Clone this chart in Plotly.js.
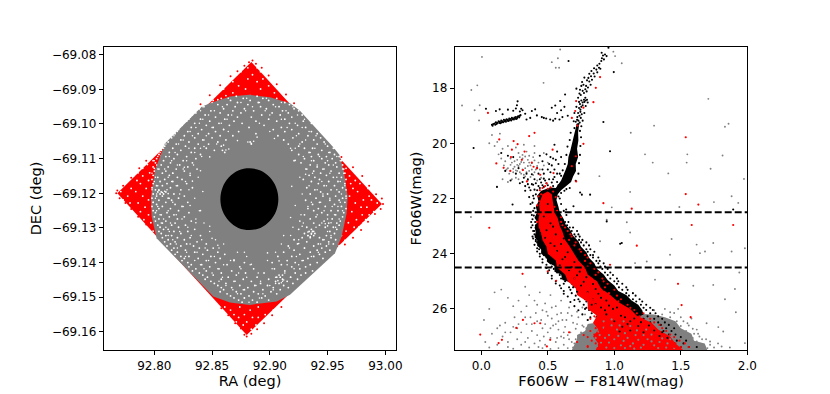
<!DOCTYPE html>
<html>
<head>
<meta charset="utf-8">
<script src="https://cdn.plot.ly/plotly-3.0.1.min.js"></script>
<style>
  html, body { margin: 0; padding: 0; background: #fff; }
  #chart { width: 830px; height: 394px; }
</style>
</head>
<body>
<div id="chart"></div>
<script>
// ── Sky map, outlines (RA, DEC) ──

const fieldOutline = [[92.884,-69.0821],[92.997,-69.1231],[92.880,-69.1609],[92.768,-69.1200]];

const greyOutline = [[92.8823,-69.0916],[92.9001,-69.0923],[92.9175,-69.0940],[92.9261,-69.0962],[92.9550,-69.1067],
  [92.9602,-69.1089],[92.9642,-69.1137],[92.9674,-69.1210],[92.9665,-69.1258],[92.9622,-69.1325],[92.9564,-69.1373],
  [92.9175,-69.1493],[92.9059,-69.1512],[92.8828,-69.1522],[92.8655,-69.1515],[92.8511,-69.1498],[92.8020,-69.1330],
  [92.7977,-69.1267],[92.7971,-69.1210],[92.8006,-69.1133],[92.8092,-69.1056],[92.8410,-69.0950],[92.8482,-69.0940],[92.8655,-69.0921]];

const coreOutline = [[92.8823,-69.1128],[92.8919,-69.1134],[92.9000,-69.1154],[92.9055,-69.1183],[92.9074,-69.1217],
  [92.9055,-69.1251],[92.9000,-69.1280],[92.8919,-69.1300],[92.8823,-69.1306],[92.8727,-69.1300],[92.8646,-69.1280],
  [92.8591,-69.1251],[92.8572,-69.1217],[92.8591,-69.1183],[92.8646,-69.1154],[92.8727,-69.1134]];

// gaps between stars in the grey area, one RA list per DEC row
const gapDec = [-69.092,-69.0926,-69.0932,-69.0938,-69.0944,-69.095,-69.0956,-69.0962,-69.0968,-69.0974,-69.098,-69.0986,-69.0992,-69.0998,-69.1004,-69.101,-69.1016,-69.1022,-69.1028,-69.1034,-69.104,-69.1046,-69.1052,-69.1058,-69.1064,-69.107,-69.1076,-69.1082,-69.1088,-69.1094,-69.11,-69.1106,-69.1112,-69.1118,-69.1124,-69.113,-69.1136,-69.1142,-69.1148,-69.1154,-69.116,-69.1166,-69.1172,-69.1178,-69.1184,-69.119,-69.1196,-69.1202,-69.1208,-69.1214,-69.122,-69.1226,-69.1232,-69.1238,-69.1244,-69.125,-69.1256,-69.1262,-69.1268,-69.1274,-69.128,-69.1286,-69.1292,-69.1298,-69.1304,-69.131,-69.1316,-69.1322,-69.1328,-69.1334,-69.134,-69.1346,-69.1352,-69.1358,-69.1364,-69.137,-69.1376,-69.1382,-69.1388,-69.1394,-69.14,-69.1406,-69.1412,-69.1418,-69.1424,-69.143,-69.1436,-69.1442,-69.1448,-69.1454,-69.146,-69.1466,-69.1472,-69.1478,-69.1484,-69.149,-69.1496,-69.1502,-69.1508,-69.1514];
const gapRa = [
[92.871,92.889],[92.858,92.877,92.894,92.906],[92.851,92.866,92.883,92.899],[92.846,92.872,92.89,92.913],[92.855,92.863,92.881,92.903,92.917],
[92.843,92.87,92.892,92.908],[92.839,92.86,92.878,92.897,92.921],[92.849,92.868,92.886,92.911,92.925],[92.836,92.857,92.875,92.902,92.916],[92.844,92.864,92.893,92.909,92.928],
[92.831,92.853,92.872,92.884,92.919,92.933],[92.84,92.861,92.899,92.913],[92.828,92.848,92.869,92.888,92.906,92.929],[92.835,92.856,92.876,92.917,92.936],[92.824,92.845,92.865,92.895,92.924,92.94],
[92.832,92.851,92.882,92.91,92.931],[92.821,92.841,92.86,92.903,92.919,92.943],[92.829,92.853,92.873,92.913,92.936,92.948],[92.818,92.838,92.847,92.888,92.925,92.941],[92.826,92.857,92.868,92.907,92.933,92.951],
[92.815,92.835,92.85,92.92,92.944],[92.823,92.842,92.862,92.912,92.938,92.954],[92.812,92.83,92.855,92.883,92.928,92.947],[92.819,92.838,92.847,92.884,92.916,92.941,92.957],[92.809,92.827,92.858,92.925,92.95],
[92.816,92.835,92.845,92.93,92.937,92.955],[92.806,92.823,92.852,92.859,92.919,92.945,92.959],[92.813,92.832,92.861,92.934,92.952],[92.804,92.82,92.84,92.925,92.942,92.956],[92.81,92.828,92.936,92.949,92.96],
[92.802,92.817,92.836,92.93,92.945,92.954],[92.808,92.825,92.921,92.938,92.962],[92.801,92.814,92.833,92.927,92.948,92.957],[92.806,92.822,92.935,92.951,92.963],[92.799,92.812,92.829,92.941,92.958],
[92.804,92.819,92.837,92.932,92.946,92.964],[92.8,92.81,92.826,92.938,92.953],[92.807,92.816,92.944,92.96,92.965],[92.799,92.813,92.831,92.934,92.949],[92.803,92.82,92.939,92.955,92.962],
[92.798,92.809,92.824,92.929,92.943,92.966],[92.805,92.816,92.936,92.951,92.959],[92.799,92.811,92.828,92.942,92.965],[92.802,92.807,92.82,92.947,92.956],[92.798,92.814,92.833,92.932,92.963],
[92.801,92.804,92.823,92.939,92.953,92.966],[92.803,92.806,92.81,92.944,92.96],[92.799,92.805,92.808,92.817,92.935,92.95],[92.802,92.807,92.826,92.946,92.957,92.966],[92.798,92.812,92.821,92.94,92.963],
[92.804,92.815,92.931,92.952,92.96],[92.799,92.81,92.829,92.943,92.965],[92.802,92.818,92.937,92.956],[92.798,92.807,92.824,92.948,92.962],[92.804,92.814,92.933,92.942,92.966],
[92.799,92.821,92.938,92.953,92.959],[92.801,92.811,92.83,92.945,92.964],[92.806,92.817,92.93,92.95,92.957],[92.8,92.813,92.826,92.94,92.963],[92.804,92.82,92.935,92.954],
[92.801,92.81,92.832,92.926,92.947,92.961],[92.807,92.818,92.938,92.951,92.958],[92.803,92.815,92.827,92.943,92.96],[92.805,92.821,92.932,92.948,92.955],[92.808,92.812,92.835,92.925,92.936,92.958],
[92.804,92.817,92.829,92.934,92.937,92.952],[92.806,92.823,92.93,92.936,92.939,92.956],[92.81,92.815,92.84,92.933,92.938,92.949],[92.807,92.82,92.831,92.928,92.935,92.943,92.953],[92.812,92.826,92.921,92.946,92.957],
[92.809,92.818,92.837,92.932,92.951],[92.814,92.828,92.845,92.924,92.942,92.955],[92.811,92.823,92.834,92.916,92.938,92.949],[92.817,92.839,92.851,92.93,92.945],[92.815,92.827,92.846,92.921,92.941,92.952],
[92.82,92.835,92.855,92.912,92.935,92.948],[92.818,92.842,92.861,92.926,92.943],[92.823,92.83,92.849,92.907,92.919,92.938],[92.826,92.838,92.857,92.933,92.946],[92.824,92.845,92.869,92.915,92.928],
[92.829,92.853,92.878,92.902,92.922,92.941],[92.832,92.841,92.863,92.91,92.935],[92.83,92.848,92.874,92.919,92.931],[92.836,92.856,92.886,92.904,92.926],[92.833,92.845,92.867,92.913,92.937],
[92.839,92.858,92.879,92.895,92.922,92.931],[92.842,92.851,92.871,92.908,92.911,92.927],[92.846,92.864,92.889,92.906,92.909,92.918],[92.844,92.858,92.877,92.899,92.911,92.924],[92.849,92.869,92.884,92.905,92.915],
[92.852,92.862,92.892,92.908,92.92],[92.855,92.874,92.887,92.898,92.912],[92.858,92.867,92.881,92.903,92.916],[92.86,92.878,92.894,92.909],[92.857,92.871,92.886,92.901],
[92.863,92.875,92.89,92.906],[92.866,92.882,92.896],[92.869,92.878,92.893],[92.873,92.885,92.899],[92.876,92.889]
];

// second pass of smaller gaps, same DEC rows every other step
const gapDecFine = gapDec.filter((d, i) => i % 2 === 1);
const gapRaFine = [
[92.864,92.88,92.897],[92.85,92.875,92.891,92.91],[92.842,92.859,92.885,92.905,92.92],[92.84,92.852,92.879,92.896,92.914],[92.833,92.847,92.867,92.9,92.924],
[92.83,92.842,92.863,92.91,92.93],[92.825,92.839,92.858,92.891,92.922,92.937],[92.822,92.836,92.85,92.915,92.928,92.942],[92.82,92.831,92.864,92.9,92.934,92.946],[92.817,92.833,92.845,92.923,92.94,92.95],
[92.811,92.825,92.843,92.912,92.931,92.953],[92.81,92.821,92.854,92.926,92.948],[92.808,92.83,92.84,92.922,92.939,92.956],[92.805,92.818,92.835,92.935,92.951],[92.803,92.813,92.841,92.929,92.943,92.958],
[92.8,92.815,92.828,92.936,92.95,92.961],[92.802,92.82,92.834,92.941,92.955],[92.803,92.809,92.825,92.931,92.947,92.963],[92.798,92.816,92.831,92.937,92.952,92.964],[92.801,92.812,92.838,92.926,92.958],
[92.8,92.815,92.827,92.945,92.961],[92.803,92.819,92.934,92.949,92.965],[92.798,92.811,92.83,92.941,92.958],[92.802,92.822,92.928,92.946,92.962],[92.801,92.813,92.835,92.952,92.966],
[92.799,92.816,92.936,92.944,92.961],[92.803,92.825,92.933,92.954,92.959],[92.802,92.812,92.839,92.947,92.963],[92.805,92.819,92.927,92.941,92.956],[92.808,92.824,92.836,92.95,92.96],
[92.806,92.814,92.843,92.929,92.945],[92.81,92.829,92.92,92.94,92.957],[92.813,92.822,92.848,92.937,92.95],[92.812,92.832,92.918,92.933,92.953],[92.816,92.841,92.853,92.925,92.947],
[92.819,92.831,92.86,92.91,92.944,92.951],[92.82,92.844,92.856,92.917,92.93],[92.828,92.837,92.872,92.905,92.942],[92.827,92.852,92.88,92.923,92.936],[92.835,92.847,92.866,92.898,92.929],
[92.84,92.86,92.883,92.915,92.925],[92.843,92.855,92.875,92.902,92.921],[92.85,92.873,92.89,92.913],[92.859,92.88,92.905,92.918],[92.856,92.87,92.892,92.911],
[92.862,92.888,92.9],[92.868,92.877,92.903],[92.872,92.894],[92.878,92.891],[92.882]
];

// the odd gap well inside the ring, and the clear patches
const gapInner = [[92.843,-69.1065],[92.86,-69.1015],[92.872,-69.1048],[92.889,-69.1038],[92.904,-69.1042],[92.918,-69.107],[92.826,-69.1125],[92.84,-69.1135],[92.848,-69.1095],[92.922,-69.1105],[92.931,-69.1145],[92.919,-69.118],[92.833,-69.1165],[92.842,-69.1195],
  [92.84,-69.125],[92.831,-69.1235],[92.848,-69.1295],[92.836,-69.1285],[92.922,-69.1235],[92.918,-69.127],[92.928,-69.1295],[92.912,-69.1322],[92.855,-69.135],[92.869,-69.1392],[92.884,-69.1405],[92.898,-69.1372],[92.878,-69.137],[92.908,-69.1395],[92.85,-69.133],[92.925,-69.1345],[92.86,-69.1061],[92.862,-69.1075],[92.8645,-69.1072],
  [92.881,-69.1052],[92.884,-69.1056],[92.886,-69.105],[92.933,-69.1312],[92.936,-69.1318],[92.938,-69.131],[92.935,-69.1325],[92.907,-69.1452],[92.91,-69.1458],[92.912,-69.145],[92.905,-69.146],[92.804,-69.1192],[92.807,-69.1198],[92.809,-69.1194],[92.812,-69.1201],[92.948,-69.1288],[92.95,-69.1294],[92.953,-69.1285]];

// gaps in the red corners, one RA list per DEC row
const capDec = [-69.0838,-69.0849,-69.0858,-69.087,-69.0878,-69.089,-69.0899,-69.091,-69.0918,-69.093,-69.0941,-69.0952,
  -69.1092,-69.1106,-69.1117,-69.1128,-69.1141,-69.115,-69.1163,-69.1172,-69.1186,-69.1195,-69.1208,-69.1219,-69.1228,-69.124,-69.1253,-69.1262,-69.1276,-69.1285,-69.1298,-69.1309,-69.1322,-69.1336,-69.1351,-69.1366,
  -69.1528,-69.1537,-69.155,-69.1558,-69.1571,-69.158,-69.1592];
const capRa = [
[92.881,92.889],[92.875,92.892],[92.871,92.885,92.9],[92.863,92.881,92.894],[92.868,92.889,92.906],[92.854,92.873,92.899],[92.86,92.879,92.892,92.91],[92.85,92.868,92.904,92.916],[92.845,92.862,92.883,92.912],[92.841,92.855,92.896,92.921],[92.837,92.849,92.907,92.926],[92.831,92.916,92.93],
[92.806,92.961],[92.799,92.965],[92.794,92.969],[92.79,92.8,92.972,92.966],[92.786,92.796,92.977],[92.782,92.79,92.969,92.981],[92.785,92.795,92.974,92.984],[92.775,92.788,92.978,92.97],[92.78,92.793,92.985,92.972],[92.771,92.784,92.976,92.99],[92.777,92.79,92.969,92.986,92.992],[92.773,92.795,92.981,92.988],[92.779,92.786,92.974,92.993],
[92.775,92.792,92.984,92.979],[92.781,92.788,92.971,92.99],[92.778,92.795,92.98,92.986],[92.784,92.791,92.975,92.983],[92.782,92.797,92.968,92.981],[92.788,92.793,92.977,92.973],[92.791,92.799,92.966,92.975],[92.795,92.97,92.962],[92.798,92.965],[92.96,92.957],[92.953],
[92.861,92.874,92.89,92.912],[92.866,92.883,92.903],[92.869,92.878,92.896],[92.873,92.89,92.885],[92.871,92.88,92.893],[92.877,92.888],[92.874,92.884]
];

// loose stars past the red edges
const capStray = [[92.885,-69.0817],[92.882,-69.0822],[92.888,-69.0826],[92.878,-69.0832],[92.893,-69.0838],[92.872,-69.0848],[92.899,-69.086],[92.866,-69.0862],[92.906,-69.0885],[92.857,-69.0888],[92.914,-69.0915],[92.848,-69.0917],[92.921,-69.094],[92.84,-69.0943],
  [92.767,-69.12],[92.768,-69.1192],[92.77,-69.1214],[92.773,-69.1178],[92.775,-69.1228],[92.78,-69.1155],[92.78,-69.1245],[92.787,-69.1128],[92.786,-69.1268],[92.793,-69.1106],[92.793,-69.129],
  [92.998,-69.1231],[92.997,-69.1215],[92.996,-69.1245],[92.992,-69.1203],[92.991,-69.126],[92.986,-69.1178],[92.985,-69.1282],[92.98,-69.115],[92.979,-69.1306],[92.972,-69.1125],[92.972,-69.1328],[92.965,-69.1348],[92.962,-69.1095],
  [92.88,-69.1613],[92.878,-69.1608],[92.884,-69.1605],[92.875,-69.159],[92.889,-69.1592],[92.87,-69.1575],[92.895,-69.1575],[92.864,-69.1552],[92.902,-69.1552],[92.858,-69.1532],[92.91,-69.1528]];

// ── Colour-magnitude diagram, outlines (colour, mag) ──

const faintOutline = [[0.68,27.5],[0.72,27.1],[0.72,26.95],[0.78,26.8],[0.8,26.55],[0.86,26.5],[0.9,26.3],[1.0,26.3],[1.02,26.15],[1.3,26.2],[1.38,26.3],[1.46,26.45],[1.5,26.7],[1.58,26.9],[1.6,27.15],[1.68,27.25],[1.7,27.5]];

const sequenceOutline = [[0.90,26.3],[0.87,26.12],[0.85,26.05],[0.84,25.88],[0.80,25.8],[0.80,25.62],[0.74,25.5],[0.75,25.35],[0.69,25.2],[0.68,25.05],[0.61,24.95],[0.6,24.75],[0.55,24.65],[0.55,24.45],[0.5,24.32],[0.49,24.15],[0.45,24.0],[0.45,23.85],[0.42,23.7],[0.42,23.5],[0.40,23.4],[0.41,23.2],[0.40,23.05],[0.42,22.85],[0.40,22.7],[0.42,22.5],[0.41,22.3],[0.43,22.1],[0.42,21.9],[0.45,21.72],[0.52,21.6],[0.56,21.62],[0.60,21.35],[0.62,21.15],[0.635,20.95],[0.65,20.75],[0.655,20.5],[0.67,20.25],[0.68,20.05],[0.69,19.8],[0.705,19.55],[0.715,19.35],[0.735,19.35],[0.728,19.6],[0.73,19.9],[0.72,20.2],[0.728,20.5],[0.71,20.75],[0.712,21.0],[0.69,21.2],[0.675,21.4],[0.64,21.55],[0.6,21.7],[0.575,21.85],[0.565,22.05],[0.58,22.3],[0.59,22.5],[0.62,22.75],[0.635,22.95],[0.67,23.15],[0.69,23.35],[0.73,23.55],[0.75,23.75],[0.79,23.95],[0.81,24.15],[0.85,24.35],[0.87,24.55],[0.92,24.75],[0.95,24.95],[1.0,25.15],[1.03,25.35],[1.09,25.5],[1.13,25.7],[1.18,25.85],[1.21,26.05],[1.22,26.2],[1.1,26.45],[1.0,26.35]];

const redOutline = [[0.46,21.85],[0.5,21.75],[0.53,21.85],[0.54,22.2],[0.55,22.5],[0.575,22.72],[0.59,23.0],[0.61,23.2],[0.63,23.5],[0.66,23.7],[0.7,24.0],[0.73,24.25],[0.78,24.5],[0.8,24.75],[0.87,25.0],[0.9,25.25],[0.97,25.5],[1.03,25.75],[1.12,26.0],[1.17,26.25],[1.28,26.5],[1.33,26.75],[1.42,27.0],[1.46,27.25],[1.52,27.5],
  [0.86,27.5],[0.88,27.25],[0.84,27.0],[0.88,26.75],[0.84,26.5],[0.87,26.25],[0.8,26.0],[0.8,25.75],[0.72,25.5],[0.71,25.25],[0.65,25.0],[0.63,24.75],[0.57,24.5],[0.56,24.25],[0.5,24.0],[0.49,23.75],[0.46,23.5],[0.45,23.25],[0.43,23.0],[0.43,22.75],[0.44,22.5],[0.435,22.2]];

const starsGrey = [[-0.145,18.63],[-0.075,18.07],[-0.03,17.9],[0.005,16.87],[-0.05,18.8],[-0.012,18.62],[-0.017,19.17],[0.593,16.6],[0.576,16.92],
  [0.53,17.06],[0.56,17.26],[0.585,17.26],[0.468,17.81],[1.056,17.1],[0.993,16.68],[1.006,16.84],[1.124,19.62],[1.299,19.36],[1.707,18.39],[1.832,19.4],
  [1.859,19.29],[1.231,20.4],[1.289,20.7],[1.406,21.09],[1.549,20.4],[1.544,20.7],[1.724,20.92],[1.814,20.44],[1.975,21.29],[1.882,21.92],[1.932,22.16],
  [1.749,22.13],[1.489,22.31],[1.119,21.76],[0.981,22.32],[0.888,21.19],[-0.078,22.67],[1.094,22.86],[1.119,23.23],[0.893,23.55],[0.943,22.77],[1.431,23.47],
  [1.619,23.67],[1.682,23.92],[1.644,23.98],[1.744,23.61],[1.882,23.92],[1.982,23.8],[1.419,24.04],[1.244,24.28],[1.156,24.34],[1.306,24.94],[1.94,24.68],
  [1.594,25.16],[1.744,25.13],[1.907,25.28],[1.832,25.65],[1.914,26.12],[1.982,27.24],[1.819,26.82],[1.782,26.66],[1.694,26.52],[1.869,27.4],[1.807,27.36],
  // blue-ward of the turn-off
  [0.2,20.9],[0.23,20.7],[0.25,20.85],[0.27,20.6],[0.29,20.75],[0.31,20.55],[0.33,20.9],[0.35,20.6],[0.37,20.8],[0.39,20.5],[0.27,21.0],[0.3,21.1],[0.33,21.2],
  [0.36,21.0],[0.39,21.15],[0.41,20.95],[0.24,21.05],[0.26,21.25],[0.43,20.7],[0.22,20.55],[0.28,20.35],[0.34,20.3],[0.4,20.35],[0.45,21.25],[0.35,21.35],
  [0.31,20.95],[0.29,20.5],[0.36,20.7],[0.38,20.95],[0.25,20.65],[0.32,20.7],[0.34,21.05],[0.42,21.35],[0.18,20.65],[0.13,20.4],[0.1,20.1],[0.16,20.2],
  [0.28,20.82],[0.3,20.68],[0.33,20.48],[0.35,20.82],[0.26,20.98],[0.29,21.05],[0.32,21.14],[0.37,21.22],[0.4,21.05],[0.38,20.72],[0.42,20.82],[0.27,20.78],[0.24,20.92],[0.22,20.78],[0.31,20.42],[0.36,20.45],[0.4,20.62],[0.44,20.95],[0.47,20.8],
  [0.21,21.1],[0.19,20.95],[0.17,20.8],[0.15,20.55],[0.12,19.95],[0.08,19.7],[0.06,20.0],[0.14,19.65],[0.2,20.1],[0.26,20.15],[0.32,20.05],[0.4,20.1],[0.47,20.35],[0.5,20.7],[0.28,21.3],[0.23,21.3],[0.2,21.4],[0.16,21.3],
  // faint blue cloud
  [0.02,26.4],[0.06,26.0],[0.1,25.4],[0.15,25.3],[0.2,25.6],[0.24,25.9],[0.28,25.7],[0.33,25.2],[0.36,25.5],[0.4,25.7],[0.44,25.4],[0.48,25.8],[0.52,25.5],
  [0.56,25.9],[0.6,25.7],[0.34,25.9],[0.3,26.1],[0.25,26.3],[0.18,26.5],[0.12,26.7],[0.08,26.9],[0.03,27.2],[0.06,27.4],[0.12,27.3],[0.16,27.0],[0.2,27.2],
  [0.22,26.85],[0.27,27.1],[0.3,26.85],[0.34,26.55],[0.37,26.3],[0.41,26.15],[0.45,26.4],[0.49,26.1],[0.53,26.35],[0.57,26.2],[0.61,26.4],[0.65,26.15],
  [0.69,26.5],[0.73,26.3],[0.76,26.6],[0.63,26.65],[0.58,26.75],[0.54,26.6],[0.5,26.85],[0.46,26.7],[0.42,26.95],[0.38,26.8],[0.35,27.05],[0.4,27.25],
  [0.44,27.15],[0.48,27.3],[0.52,27.05],[0.56,27.2],[0.6,27.0],[0.62,27.3],[0.58,27.42],[0.52,27.45],[0.46,27.42],[0.36,27.4],[0.3,27.3],[0.24,27.44],
  [0.67,26.85],[0.71,26.72],[0.66,27.1],[0.74,26.95],[0.8,26.4],[0.78,26.2],[0.86,26.3],[0.92,26.0],[0.98,26.05],[1.03,25.95],[1.3,26.05],[1.38,26.0],
  [1.45,26.15],[1.52,26.45],[1.56,26.6],[1.6,26.9],[1.64,27.0],[1.69,27.1],[1.72,27.3],[1.75,27.4],[1.78,27.25],[1.62,26.75],[1.58,26.35],[1.48,26.0],
  [0.7,27.25],[0.72,27.42],[0.68,27.2],[0.69,27.4],[0.71,27.1],[0.75,26.85],[0.79,26.7],[0.77,26.65],[1.36,26.2],[1.42,26.3],[1.47,26.45],[1.5,26.62],[1.54,26.8],[1.59,27.05],[1.62,27.18],[1.7,27.42],[1.55,26.52],[1.59,26.72],[1.63,26.9],[1.66,27.1],[1.5,26.3],[1.42,26.12],[1.72,27.18],
  [0.64,26.4],[0.68,26.25],[0.72,26.55],[0.65,26.95],[0.62,26.85],[0.56,26.55],[0.6,26.15],[0.66,25.95],[0.72,26.1],[0.76,25.95],[0.48,26.55],[0.42,26.45],[0.38,26.55],[0.33,26.3],[0.28,26.55],[0.24,26.65],[0.18,26.85],[0.14,26.6],[0.5,26.25],[0.46,26.05],[0.53,25.95],[0.42,25.85],[0.57,27.05],[0.52,26.7],[0.47,27.0],[0.43,27.38],[0.33,27.2],[0.27,26.7],[0.2,27.38],[0.65,27.42],[0.62,27.05],[0.58,26.45]];

// grey stars drawn over the red
const starsGreyOver = [[0.96,26.95],[1.0,27.1],[1.05,27.32],[1.1,27.05],[1.14,27.25],[1.2,27.4],[1.25,27.1],[1.3,27.32],[1.02,26.75],[1.08,26.88],[1.16,26.95],[1.24,26.75],[1.28,26.93],[1.36,27.07],[1.4,27.25],[1.45,27.42],[0.9,27.22],[0.86,27.05],[0.94,27.4],[1.04,26.6],[1.12,26.62],[1.07,27.16],[1.18,27.12],[1.33,27.42],[1.22,27.3],[0.98,26.6],[0.92,26.68],[1.15,27.44],[1.12,27.35],[0.88,26.82],[1.0,27.42],[0.96,27.22],[1.17,26.78],[1.28,27.18],[0.93,27.05],[0.89,26.95],[0.87,27.35],[1.34,27.2],[1.39,27.4],[1.42,27.1],[1.03,26.98],[1.08,27.42],[1.22,26.95],[0.92,26.45],[0.98,26.38],[1.07,26.45]];

const starsBlack = [[0.035,18.75],[0.138,18.77],[0.273,18.48],[0.268,18.62],[-0.058,20.17],[0.656,17.02],[0.918,19.23],[0.968,20.29],[0.996,17.42],[0.956,16.54],
  [0.118,21.58],[0.235,22.22],[0.743,21.78],[0.756,21.86],[0.818,21.86],[1.894,22.4],[1.056,23.61],[1.044,23.64],[0.943,22.83],[0.638,22.4],[0.693,22.28],
  // horizontal branch
  [0.08,19.33],[0.09,19.3],[0.1,19.28],[0.105,19.33],[0.11,19.24],[0.12,19.26],[0.13,19.2],[0.135,19.26],[0.14,19.22],[0.15,19.18],[0.155,19.24],[0.16,19.2],
  [0.17,19.15],[0.175,19.2],[0.18,19.17],[0.19,19.13],[0.195,19.18],[0.2,19.15],[0.21,19.1],[0.215,19.16],[0.22,19.12],[0.23,19.08],[0.235,19.13],[0.24,19.1],
  [0.25,19.07],[0.255,19.11],[0.26,19.05],[0.27,19.08],[0.28,19.02],[0.285,19.06],[0.29,19.0],[0.295,18.98],[0.11,18.83],[0.16,18.95],[0.2,18.78],[0.24,18.82],
  [0.26,18.74],[0.29,18.85],[0.3,18.75],[0.31,18.8],[0.33,18.93],[0.34,19.14],[0.368,19.08],[0.38,18.83],[0.405,18.77],[0.418,18.99],[0.455,19.05],[0.488,19.1],
  [0.518,19.14],[0.47,19.08],[0.556,19.11],[0.588,19.14],[0.53,18.71],[0.556,18.63],[0.593,18.47],[0.63,18.23],[0.6,18.8],[0.625,18.68],[0.57,18.9],[0.65,19.0],
  [0.54,19.18],[0.61,19.05],[0.085,19.36],[0.115,19.3],[0.145,19.27],[0.165,19.24],[0.185,19.22],[0.205,19.19],[0.225,19.17],[0.245,19.14],[0.265,19.12],[0.275,19.03],
  // upper giants
  [0.715,18.02],[0.742,18.06],[0.752,17.92],[0.768,17.88],[0.758,17.78],[0.795,17.72],[0.775,17.62],[0.805,17.63],[0.812,17.48],[0.825,17.57],[0.828,17.38],[0.845,17.47],[0.848,17.28],
  [0.865,17.33],[0.872,17.18],[0.885,17.26],[0.902,17.02],[0.888,17.12],[0.907,16.92],[0.922,16.96],[0.93,16.78],[0.942,16.84],[0.905,16.72],[0.915,16.82],[0.748,18.25],[0.772,18.18],
  [0.792,18.12],[0.762,18.1],[0.738,18.2],[0.782,18.04],[0.802,17.98],[0.822,17.88],[0.788,17.92],[0.812,17.76],[0.832,17.7],[0.852,17.58],[0.872,17.43],[0.895,17.3],[0.728,18.35],
  [0.735,18.5],[0.715,18.68],[0.745,18.78],[0.7,18.9],[0.722,19.05],[0.695,19.2],[0.73,19.3],[0.7,19.45],[0.672,19.62],[0.742,19.55],[0.665,19.88],[0.75,19.78],[0.648,20.12],[0.745,20.1],[0.64,20.42],[0.742,20.42],[0.628,20.75],[0.735,20.72],[0.612,20.98],[0.73,21.1],[0.6,21.18],[0.71,21.36],[0.665,21.62],
  [0.8,18.52],[0.785,18.65],[0.775,18.9],[0.762,19.18],[0.752,19.38],
  [0.752,18.45],[0.762,18.52],[0.772,18.42],[0.782,18.35],[0.742,18.58],[0.752,18.68],[0.762,18.62],[0.735,18.72],[0.745,18.86],[0.755,18.95],[0.728,18.9],[0.738,19.0],[0.748,19.08],[0.72,19.15],[0.73,19.18],[0.74,19.25],[0.71,19.22],[0.722,19.32],[0.775,18.5],[0.785,18.45],[0.795,18.42],
  // around the turn-off
  [0.35,21.3],[0.39,21.5],[0.33,21.55],[0.37,21.7],[0.31,21.4],[0.44,21.3],[0.47,21.1],[0.5,20.95],[0.53,20.8],[0.56,20.6],[0.48,21.35],[0.41,21.45],[0.36,21.95],
  [0.39,21.9],[0.37,22.2],[0.39,22.45],[0.38,22.6],[0.59,22.0],[0.6,22.2],[0.62,22.45],[0.64,22.6],[0.42,20.9],[0.46,20.65],[0.52,20.5],[0.57,20.3],[0.55,20.05],
  [0.43,21.55],[0.45,21.42],[0.47,21.58],[0.49,21.45],[0.51,21.3],[0.53,21.42],[0.55,21.22],[0.57,21.4],[0.59,21.1],[0.42,21.7],[0.4,21.68],[0.41,21.85],[0.395,22.0],[0.385,22.15],[0.4,22.35],[0.395,22.62],[0.385,22.75],
  [0.58,21.93],[0.6,21.8],[0.625,21.72],[0.64,21.66],[0.46,21.52],[0.58,21.52],[0.5,21.52],[0.54,21.55],[0.38,21.48],[0.36,21.6],[0.52,21.05],[0.55,20.95],[0.29,21.45],[0.33,21.72],
  [0.28,20.9],[0.24,20.5],[0.32,21.25],[0.38,21.12],[0.43,21.1],[0.46,20.95],[0.51,20.75],[0.54,20.55],[0.58,20.75],[0.6,20.5],[0.49,20.4],[0.44,20.45],[0.35,21.48],[0.26,21.1],[0.22,21.35],[0.18,21.0],[0.2,20.45],[0.15,20.35],[0.44,21.62],[0.54,21.3],[0.47,21.28],[0.4,21.3],[0.34,21.1],[0.57,21.1],
  // stars over the red
  [0.5,22.2],[0.47,22.65],[0.52,22.9],[0.49,23.15],[0.56,23.3],[0.52,23.62],[0.6,23.65],[0.57,23.9],[0.65,23.95],[0.61,24.2],[0.7,24.3],[0.66,24.6],[0.74,24.65],[0.7,24.9],[0.79,24.85],[0.75,25.15],[0.84,25.1],[0.8,25.4],[0.88,25.45],[0.84,25.65],[0.94,25.7],[0.9,25.95],[0.99,26.0],[0.94,26.2],[1.05,26.25],[1.0,26.45],[1.1,26.55],[1.04,26.82],[1.18,26.62],[0.62,23.45],[0.74,24.1],[0.85,24.9],[0.92,25.3],[0.83,25.85],[1.02,25.95],[1.08,26.3],
  [0.54,23.02],[0.48,23.42],[0.55,23.72],[0.63,24.12],[0.59,24.42],[0.68,24.48],[0.72,24.78],[0.77,25.02],[0.72,25.38],[0.86,25.28],[0.9,25.6],[0.86,25.82],[0.96,25.88],[0.93,26.05],[1.12,26.45],[1.2,26.48],[1.26,26.6],[1.3,26.78],[1.22,26.85],[1.36,26.85],[1.34,26.98],[1.4,27.05],[1.12,26.78],[1.06,26.65],[1.15,26.35],
  // left edge of the sequence
  [0.41,23.55],[0.39,23.45],[0.42,23.8],[0.4,23.68],[0.44,24.0],[0.42,23.92],[0.46,24.2],[0.44,24.1],[0.49,24.4],[0.46,24.32],[0.51,24.6],[0.49,24.52],[0.53,24.8],[0.5,24.7],[0.56,25.0],[0.53,24.9],[0.59,25.15],[0.56,25.08],[0.62,25.35],[0.6,25.25],[0.65,25.55],[0.62,25.45],[0.67,25.75],[0.7,25.9],[0.73,26.05],[0.76,26.2],[0.8,26.4],[0.82,26.3],[0.7,25.68],[0.78,26.0]];

// main sequence stars, one colour list per magnitude row
const bandMag = [22.85,22.97,23.05,23.18,23.3,23.38,23.5,23.59,23.7,23.84,23.93,24.05,24.14,24.26,24.35,24.47,24.55,24.68,24.77,24.9,25.0,25.09,25.22,25.31,25.43,25.52,25.65,25.73,25.85,25.96,26.04,26.16,26.27,26.36,26.49,26.58,26.7,26.8,26.93,27.02,27.15,27.25,27.38];
const bandBlack = [
[0.375,0.405,0.63,0.655,0.505],[0.385,0.41,0.645,0.62,0.53],[0.375,0.43,0.665,0.69,0.52],[0.39,0.4,0.68,0.72,0.49],[0.44,0.4,0.7,0.73,0.51],[0.385,0.43,0.71,0.74,0.55],[0.41,0.45,0.735,0.76],[0.42,0.46,0.75,0.79,0.68],[0.43,0.47,0.77,0.81],
[0.435,0.49,0.79,0.82,0.72],[0.46,0.5,0.8,0.85],[0.47,0.525,0.82,0.84,0.76],[0.49,0.53,0.84,0.88],[0.5,0.55,0.865,0.89,0.8],[0.52,0.57,0.88,0.92],[0.53,0.58,0.895,0.93,0.83],[0.545,0.6,0.91,0.95],[0.57,0.61,0.93,0.97,0.86],[0.59,0.625,0.95,0.99],[0.6,0.65,0.97,1.02,0.9],
[0.63,0.66,1.0,1.03],[0.62,0.68,1.02,1.06,0.93],[0.66,0.69,1.035,1.09],[0.67,0.72,1.06,1.1,0.99],[0.68,0.74,1.09,1.14],[0.71,0.75,1.11,1.16,1.03],[0.73,0.78,1.14,1.19],[0.74,0.79,1.165,1.21,1.07],[0.77,0.82,1.2,1.24],[0.79,0.83,1.22,1.27,1.11],
[0.81,0.86,1.24,1.29,1.15],[0.83,0.88,1.27,1.31,1.18],[0.87,0.92,1.25,1.33,1.14],[0.88,0.95,1.3,1.36,1.22],[0.92,1.0,1.33,1.38,1.27],[0.94,1.05,1.35,1.41,1.2],[0.97,1.1,1.3,1.39,1.45],[1.0,1.15,1.37,1.43,1.26],[1.08,1.22,1.34,1.46,1.41],[1.11,1.38,1.5],[1.17,1.41,1.47,1.54],[1.45,1.52],[1.5,1.56,1.62]
];
const bandRed = [
[0.42,0.6],[0.61,0.48],[0.63,0.44],[0.65,0.45],[0.67,0.46],[0.47,0.68],[0.49,0.66],[0.71,0.5],[0.52,0.7],
[0.74,0.53],[0.56,0.75],[0.78,0.55],[0.58,0.8],[0.6,0.78],[0.82,0.62],[0.63,0.8],[0.85,0.66],[0.64,0.88],[0.68,0.86],[0.7,0.91],
[0.92,0.72],[0.74,0.95],[0.77,0.93],[0.76,1.0],[0.96,0.8],[0.81,1.02],[1.05,0.84],[0.83,1.03],[0.86,1.1],[1.12,0.88],
[0.85,1.15],[0.9,1.17,1.22],[1.19,0.91,0.85],[0.82,1.21,1.27],[1.24,0.88,1.3],[0.87,1.28,1.34],[1.3,0.93,1.36,0.86],[0.89,1.33,1.39,0.82],[0.85,1.36,1.42,0.91],[1.38,1.45,0.88,0.8],[0.9,1.41,0.83,1.49],[1.46,0.86,0.92,1.53],[0.8,1.45,1.5,0.9,1.56]
];

const starsRed = [[0.05,18.9],[0.135,19.86],[0.4,19.62],[0.243,19.92],[0.273,20.03],[0.23,20.23],[0.325,20.3],[0.36,19.74],[0.223,20.5],[0.305,20.6],[0.38,20.7],[0.113,20.73],
  [0.168,20.89],[0.218,21.0],[0.313,20.97],[0.393,20.85],[0.418,20.9],[0.343,21.38],[0.443,21.14],[0.543,21.08],[0.536,20.23],[0.768,20.02],[1.537,19.78],[1.537,21.84],[1.632,22.22],
  [0.918,22.17],[1.131,22.37],[0.893,17.6],[0.861,17.99],[0.843,18.51],[0.713,18.47],[0.706,18.83],[0.768,18.71],[0.681,19.08],[0.723,19.36],[0.711,20.47],[0.681,20.83],[0.713,21.38],
  [0.06,23.06],[1.582,22.96],[1.894,22.96],[1.169,23.71],[0.31,24.73],[0.563,24.98],[0.5,24.64],[0.968,24.4],[1.479,25.09],[1.506,25.86],[1.574,26.3],[-0.008,26.93],[0.263,26.69],
  [0.4,26.52],[0.13,27.24],[0.155,27.12],[0.313,26.4],[0.518,27.12],[0.443,26.52],[0.493,27.36],[0.66,26.85],[0.72,27.2],[0.77,26.95],[0.8,27.35],
  // top of the main sequence
  [0.44,21.7],[0.46,21.62],[0.48,21.55],[0.5,21.65],[0.52,21.6],[0.54,21.75],[0.45,21.85],[0.47,21.95],[0.49,21.45],[0.43,21.92],[0.56,21.95],[0.44,22.1],[0.42,22.25],[0.55,22.3],[0.57,22.45],[0.43,22.55],[0.6,22.68]];

// dashed magnitude cuts
const cutMags = [22.5, 24.5];
const cutColors = [-0.2, 2.0];

// ── Traces ──

const xs = pts => pts.map(p => p[0]);
const ys = pts => pts.map(p => p[1]);
const fromRows = (rows, pos) => rows.flatMap((row, i) => row.map(v => [v, pos[i]]));

function area(pts, color, axes, smooth) {
    const ring = pts.concat([pts[0]]);
    return { x: xs(ring), y: ys(ring), xaxis: axes[0], yaxis: axes[1], mode: "lines", fill: "toself", fillcolor: color,
        line: { width: 0, color: color, shape: smooth ? "spline" : "linear" }, hoverinfo: "skip" };
}

function dots(pts, color, size, axes) {
    return { x: xs(pts), y: ys(pts), xaxis: axes[0], yaxis: axes[1], mode: "markers", type: "scatter",
        marker: { size: size, color: color, line: { width: 0 } }, hoverinfo: "skip" };
}

const sky = ["x", "y"], cmd = ["x2", "y2"];

const traces = [
    area(fieldOutline, "#ff0000", sky),
    dots(fromRows(capRa, capDec), "#ffffff", 1.8, sky),
    dots(capStray, "#ff0000", 2, sky),
    area(greyOutline, "#808080", sky),
    dots(fromRows(gapRa, gapDec), "#ffffff", 1.8, sky),
    dots(fromRows(gapRaFine, gapDecFine), "#ffffff", 1.5, sky),
    dots(gapInner, "#ffffff", 1.6, sky),
    area(coreOutline, "#000000", sky, true),
    area(faintOutline, "#808080", cmd),
    dots(starsGrey, "#808080", 1.9, cmd),
    area(sequenceOutline, "#000000", cmd),
    dots(fromRows(bandBlack, bandMag), "#000000", 2.1, cmd),
    area(redOutline, "#ff0000", cmd),
    dots(starsGreyOver, "#808080", 2.2, cmd),
    dots(starsBlack, "#000000", 2.1, cmd),
    dots(fromRows(bandRed, bandMag), "#ff0000", 2.2, cmd),
    dots(starsRed, "#ff0000", 2.2, cmd)
];

cutMags.forEach(m => traces.push({ x: cutColors, y: [m, m], xaxis: "x2", yaxis: "y2", mode: "lines",
    line: { color: "#000000", width: 2, dash: "7px,3px" }, hoverinfo: "skip" }));

// ── Layout ──

const W = 830, H = 394;
const tickFont = { family: "DejaVu Sans", size: 12, color: "#000" };
const titleFont = { family: "DejaVu Sans", size: 14.5, color: "#000" };
const axisBase = { showgrid: false, zeroline: false, showline: true, mirror: true, linecolor: "#000", linewidth: 1,
    ticks: "outside", ticklen: 4, tickwidth: 1, tickcolor: "#000", tickfont: tickFont };

const layout = {
    width: W, height: H, showlegend: false, paper_bgcolor: "#fff", plot_bgcolor: "#fff",
    margin: { l: 0, r: 0, t: 0, b: 0 },
    xaxis: Object.assign({}, axisBase, { domain: [103.7 / W, 396.3 / W], range: [92.7562, 93.0095], anchor: "y",
        tickvals: [92.80, 92.85, 92.90, 92.95, 93.00], tickformat: ".2f",
        title: { text: "RA (deg)", font: titleFont, standoff: 4 } }),
    yaxis: Object.assign({}, axisBase, { domain: [1 - 350.3 / H, 1 - 46.7 / H], range: [-69.1653, -69.0777], anchor: "x",
        tickvals: [-69.08, -69.09, -69.10, -69.11, -69.12, -69.13, -69.14, -69.15, -69.16], tickformat: ".2f",
        title: { text: "DEC (deg)", font: titleFont, standoff: 6 } }),
    xaxis2: Object.assign({}, axisBase, { domain: [454.7 / W, 747.3 / W], range: [-0.2, 2.0], anchor: "y2",
        tickvals: [0, 0.5, 1, 1.5, 2], tickformat: ".1f",
        title: { text: "F606W \u2212 F814W(mag)", font: titleFont, standoff: 4 } }),
    yaxis2: Object.assign({}, axisBase, { domain: [1 - 350.3 / H, 1 - 46.7 / H], range: [27.5, 16.5], anchor: "x2",
        tickvals: [18, 20, 22, 24, 26],
        title: { text: "F606W(mag)", font: titleFont, standoff: 6 } })
};

Plotly.newPlot("chart", traces, layout, { displayModeBar: false, staticPlot: true });
</script>
</body>
</html>
